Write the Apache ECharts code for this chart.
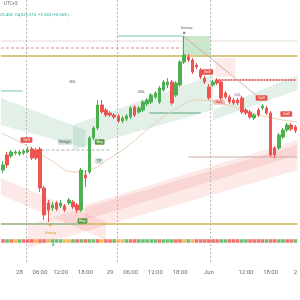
<!DOCTYPE html>
<html><head><meta charset="utf-8">
<script src="https://cdn.jsdelivr.net/npm/echarts@6/dist/echarts.min.js"></script>
<style>html,body{margin:0;padding:0;background:#fff}#c{width:300px;height:300px}</style>
</head><body><div id="c"></div>
<script>
// ---- data ----
const timeLabels = {4:'28',9:'06:00',14:'12:00',20:'18:00',26:'29',31:'06:00',37:'12:00',43:'18:00',50:'Jun',59:'12:00',65:'18:00',71:'2'};
const opens  = [4490,4505,4504,4507,4506,4507,4508,4511,4510,4511,4472,4457,4452,4457,4454,4454,4457,4458,4455,4450,4485,4488,4522,4532,4555,4550,4547,4545,4544,4539,4541,4543,4553,4548,4550,4556,4558,4563,4558,4570,4575,4578,4565,4575,4598,4603,4600,4595,4590,4582,4573,4575,4580,4578,4567,4563,4560,4560,4562,4550,4548,4542,4550,4552,4552,4547,4512,4512,4523,4530,4535,4533];
const closes = [4495,4495,4508,4508,4508,4509,4510,4502,4502,4472,4445,4450,4455,4451,4457,4450,4460,4453,4450,4490,4482,4522,4532,4555,4548,4545,4545,4543,4539,4542,4544,4552,4545,4552,4558,4560,4565,4567,4572,4578,4578,4557,4577,4598,4605,4600,4588,4593,4583,4578,4562,4578,4577,4562,4563,4558,4557,4557,4548,4547,4543,4545,4545,4554,4547,4505,4505,4525,4530,4535,4531,4529.375];
const lows   = [4487,4492,4502,4505,4504,4505,4507,4500,4500,4468,4440,4438,4449,4449,4452,4448,4455,4451,4447,4448,4473,4486,4520,4530,4546,4543,4543,4541,4537,4537,4539,4541,4543,4546,4548,4554,4556,4561,4556,4568,4572,4555,4563,4573,4596,4598,4586,4591,4581,4576,4560,4573,4575,4560,4561,4556,4555,4555,4546,4545,4541,4540,4543,4550,4545,4503,4502,4510,4521,4528,4529,4527];
const highs  = [4499,4508,4510,4510,4510,4511,4513,4513,4512,4513,4474,4460,4458,4459,4460,4456,4462,4460,4457,4492,4490,4524,4534,4560,4560,4552,4549,4547,4546,4544,4546,4554,4555,4554,4560,4562,4567,4569,4574,4580,4582,4580,4579,4600,4624,4606,4602,4597,4592,4584,4576,4580,4582,4580,4569,4565,4562,4562,4564,4552,4550,4547,4552,4556,4554,4549,4514,4527,4532,4537,4537,4535];
const signalRow = 'RGROGRRRORROGGGOOGRGRGGRORRGOOGRRGGGGGRGGGRROGORRRRRRGGRRRGGRRRRGRRGGRRG';
const signalLevel = 4419;
// horizontal levels: [fromIndex, toIndex, price]
const goldLevels   = [[-0.5, 71.5, 4604], [-0.5, 71.5, 4436]];
const beigeLevels  = [[-0.5, 71.5, 4619]];
const dashedRed    = [[-0.5, 43.4, 4612]];
const tealLevels   = [[27.8, 43.6, 4624], [-0.5, 4.8, 4569], [-0.5, 19, 4436]];
const greenLevels  = [[35.5, 48, 4547]];
const redLevels    = [[51.6, 71, 4580]];
const greyDashed   = [[5.7, 26, 4510]];
const brownLevels  = [[45, 71.5, 4503]];
const daySeparators = [5.7, 27.8, 50.4];
// bands: [x0, top0, bottom0, x1, top1, bottom1]
const greenBands = [[-0.5, 4562, 4535, 20, 4530, 4512], [17, 4535, 4510, 51, 4585, 4550], [51, 4550, 4540, 71.5, 4585, 4570]];
const pinkBands  = [[-0.5, 4482, 4465, 25, 4438, 4420], [6, 4435, 4412, 71.5, 4515, 4490], [20, 4455, 4440, 71.5, 4520, 4505]];
// emas (index, price)
const emaLine = [[-0.5,4527],[5.5,4515],[11.5,4500],[17.5,4488],[21,4490],[26,4502],[30.7,4515],[35.5,4532],[41.5,4550],[47.5,4560],[54.7,4555],[62,4545],[71.5,4538]];
const sweepPath = [[43.8, 4624], [62, 4563]];
// zones [x0, x1, top, bottom]
const tpZone = [43.6, 50.4, 4624, 4605];
const pinkZone = [51.6, 56.5, 4602, 4583];
// tags: [index, price, text, kind]
const tags = [[5.7, 4520, 'Sell', 'sell'], [49.6, 4588, 'Sell', 'sell'], [62.8, 4562, 'Sell', 'sell'], [68.8, 4546, 'Sell', 'sell'], [52.5, 4558, 'Sell', 'soft'], [19.3, 4439, 'Buy', 'buy'], [23.5, 4518, 'Buy', 'buy'], [15, 4518, 'Range', 'grey'], [23.3, 4499, 'TP', 'grey'], [44.6, 4632, 'Sweep', 'text'], [11.5, 4427, 'Swing', 'gold'], [17, 4578, 'BSL', 'text'], [33.7, 4568, 'BSL', 'text'], [57, 4565, 'SSL', 'text']];

// ---- chart ----
const N = opens.length;
const cats = opens.map((_, i) => timeLabels[i] || '');
const candles = opens.map((o, i) => [o, closes[i], lows[i], highs[i]]);
const colorMap = {R:'#ef5350', G:'#4caf50', O:'#f5a623'};
const chart = echarts.init(document.getElementById('c'), null, {renderer:'canvas'});

function seg(list, color, type, width, z) {
  return list.map(s => ({type:'line', xAxisIndex:1, yAxisIndex:0, symbol:'none', silent:true, z:z||2,
    data:[[s[0], s[2]], [s[1], s[2]]], lineStyle:{color:color, type:type, width:width}}));
}
function bandSeries(list, fill) {
  return {type:'custom', xAxisIndex:1, yAxisIndex:0, silent:true, z:1, clip:true,
    data:list, encode:{x:[0,3], y:[1,2,4,5]},
    renderItem:(p, api) => {
      const a = api.coord([api.value(0), api.value(1)]);
      const b = api.coord([api.value(3), api.value(4)]);
      const c = api.coord([api.value(3), api.value(5)]);
      const d = api.coord([api.value(0), api.value(2)]);
      return {type:'polygon', shape:{points:[a,b,c,d]}, style:{fill:fill}};
    }};
}
function zone(z, fill) {
  return {type:'custom', xAxisIndex:1, yAxisIndex:0, silent:true, z:1,
    data:[z], encode:{x:[0,1], y:[2,3]},
    renderItem:(p, api) => {
      const a = api.coord([api.value(0), api.value(2)]);
      const b = api.coord([api.value(1), api.value(3)]);
      return {type:'rect', shape:{x:a[0], y:a[1], width:b[0]-a[0], height:b[1]-a[1]}, style:{fill:fill}};
    }};
}
const tagStyle = {
  sell:{bg:'#e5534b', fg:'#fff'}, soft:{bg:'rgba(239,83,80,0.35)', fg:'#b33'},
  buy:{bg:'#5b9a3c', fg:'#fff'}, grey:{bg:'rgba(120,160,140,0.35)', fg:'#567'},
  text:{bg:null, fg:'#7a5a80'}, gold:{bg:null, fg:'#c9a227'}
};
const tagSeries = {type:'custom', xAxisIndex:1, yAxisIndex:0, silent:true, z:10,
  data:tags.map(t => [t[0], t[1]]),
  renderItem:(p, api) => {
    const t = tags[p.dataIndex];
    const st = tagStyle[t[3]];
    const c = api.coord([api.value(0), api.value(1)]);
    const w = t[2].length * 2.2 + 3, h = 5.5;
    const children = [];
    if (st.bg) children.push({type:'rect', shape:{x:c[0]-w/2, y:c[1]-h/2, width:w, height:h, r:1}, style:{fill:st.bg}});
    children.push({type:'text', style:{x:c[0], y:c[1], text:t[2], fill:st.fg, fontSize:4, fontFamily:'Roboto', align:'center', verticalAlign:'middle'}});
    return {type:'group', children:children};
  }};

const series = [
  bandSeries(greenBands, 'rgba(76,160,110,0.16)'),
  bandSeries(pinkBands, 'rgba(229,83,80,0.13)'),
  zone(tpZone, 'rgba(76,175,80,0.3)'),
  zone(pinkZone, 'rgba(239,83,80,0.12)'),
  ...seg(goldLevels, '#cdb65a', 'solid', 1.5),
  ...seg(beigeLevels, '#e6ddd0', 'solid', 1),
  ...seg(dashedRed, '#d9849a', [3,2], 1),
  ...seg(tealLevels, '#7fbfb4', 'solid', 1),
  ...seg(greenLevels, '#5aa67a', 'solid', 1),
  ...seg(redLevels, '#e06666', [2,1], 2),
  ...seg(greyDashed, '#a9b8b4', [3,2], 1),
  ...seg(brownLevels, '#cfa9a0', 'solid', 1),
  {type:'line', xAxisIndex:1, yAxisIndex:0, symbol:'none', silent:true, z:2, smooth:true,
   data:emaLine, lineStyle:{color:'#e8cfae', width:1}},
  {type:'line', xAxisIndex:1, yAxisIndex:0, symbol:'none', silent:true, z:2,
   data:sweepPath, lineStyle:{color:'#c9a18a', width:0.8}},
  {type:'line', xAxisIndex:1, yAxisIndex:0, symbol:'none', silent:true, data:[],
   markLine:{symbol:'none', silent:true, label:{show:false}, lineStyle:{color:'#b8b8b8', type:[2,2], width:1},
     data:daySeparators.map(v => ({xAxis:v}))}},
  {type:'candlestick', xAxisIndex:0, yAxisIndex:0, data:candles, barWidth:'72%', z:5,
   itemStyle:{color:'#4caf50', color0:'#ef5350', borderColor:'#4caf50', borderColor0:'#ef5350', borderWidth:1}},
  {type:'scatter', xAxisIndex:0, yAxisIndex:0, symbol:'rect', symbolSize:[3.6,3.6], silent:true, z:6,
   data:cats.map(() => signalLevel),
   itemStyle:{color:p => colorMap[signalRow[p.dataIndex]] || '#4caf50'}},
  {type:'scatter', xAxisIndex:1, yAxisIndex:0, symbol:'circle', symbolSize:2.5, silent:true, z:7,
   data:[[44, 4627]], itemStyle:{color:'#8e4f9a'}},
  {type:'scatter', xAxisIndex:1, yAxisIndex:0, symbol:'circle', symbolSize:2.5, silent:true, z:7,
   data:[[11.5, 4435]], itemStyle:{color:'#e0a030'}},
  {type:'scatter', xAxisIndex:1, yAxisIndex:0, symbol:'triangle', symbolSize:3, silent:true, z:7,
   data:[[12.2, 4416]], itemStyle:{color:'#2e9e3e'}},
  tagSeries
];

chart.setOption({
  animation:false,
  backgroundColor:'#ffffff',
  grid:{left:0, right:0, top:0, bottom:38},
  xAxis:[
    {type:'category', data:cats, boundaryGap:true, axisLine:{show:false}, axisTick:{show:false}, splitLine:{show:false},
     axisLabel:{interval:0, fontSize:6, color:'#6a6a6a', fontFamily:'Roboto', margin:7, formatter:v => v}},
    {type:'value', min:-0.5, max:N-0.5, show:false}
  ],
  yAxis:[{type:'value', min:4398, max:4660, show:false, splitLine:{show:false}}],
  graphic:[
    {type:'text', left:4, top:1, style:{text:'UTC+5', fontSize:4.5, fill:'#666', fontFamily:'Roboto'}},
    {type:'text', left:0, top:13, style:{text:'25.400  C4,529.375  +2.550 (+0.06%)', fontSize:4.2, fill:'#22ab94', fontFamily:'Roboto'}}
  ],
  series:series
});
</script></body></html>
